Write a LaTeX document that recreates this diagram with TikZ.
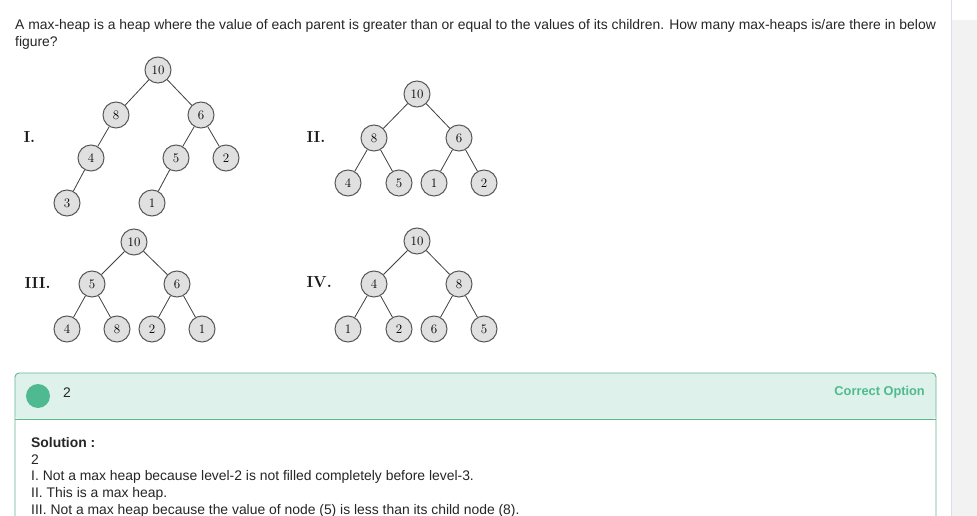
\documentclass[tikz,border=0pt]{standalone}
\usepackage{fontspec}
\setsansfont{Liberation Sans}
\begin{document}
\begin{tikzpicture}[x=1pt,y=-1pt,
  hn/.style={circle,draw=black!65,fill=black!12,line width=1pt,minimum size=26pt,inner sep=0pt,font=\fontsize{13}{15}\selectfont},
  edge/.style={draw=black!75,line width=0.8pt},
  lab/.style={font=\fontsize{16}{18}\selectfont\bfseries,anchor=west,text=black!90},
  txt/.style={font=\sffamily\fontsize{13.9}{16}\selectfont,anchor=west,inner sep=0pt,text=black!85}]
\useasboundingbox (0,0) rectangle (977,516);
\fill[white] (0,0) rectangle (977,516);
% right panel
\fill[black!5] (952,20) rectangle (977,516);
\draw[color={rgb,255:red,224;green,220;blue,232},line width=0.8pt] (951,0) -- (951,516);
% question
\node[txt] (q1) at (15,26) {A max-heap is a heap where the value of each parent is greater than or equal to the values of its children. How many max-heaps is/are there in below};
\node[txt] (q2) at (15,43) {figure?};
% Tree I
\node[lab] (L1) at (20,137) {I.};
\node[hn] (a10) at (158,70) {10};
\node[hn] (a8) at (116,115) {8};
\node[hn] (a6) at (201,115) {6};
\node[hn] (a4) at (91,158) {4};
\node[hn] (a5) at (176,158) {5};
\node[hn] (a2) at (226,158) {2};
\node[hn] (a3) at (67,203) {3};
\node[hn] (a1) at (152,203) {1};
\draw[edge] (a10)--(a8) (a10)--(a6) (a8)--(a4) (a4)--(a3) (a6)--(a5) (a6)--(a2) (a5)--(a1);
% Tree II
\node[lab] (L2) at (303,137) {II.};
\node[hn] (b10) at (417,94) {10};
\node[hn] (b8) at (374,138) {8};
\node[hn] (b6) at (459,138) {6};
\node[hn] (b4) at (348,183) {4};
\node[hn] (b5) at (399,183) {5};
\node[hn] (b1) at (434,183) {1};
\node[hn] (b2) at (484,183) {2};
\draw[edge] (b10)--(b8) (b10)--(b6) (b8)--(b4) (b8)--(b5) (b6)--(b1) (b6)--(b2);
% Tree III
\node[lab] (L3) at (21,283) {III.};
\node[hn] (c10) at (134,242) {10};
\node[hn] (c5) at (92,284) {5};
\node[hn] (c6) at (177,284) {6};
\node[hn] (c4) at (67,329) {4};
\node[hn] (c8) at (117,329) {8};
\node[hn] (c2) at (152,329) {2};
\node[hn] (c1) at (202,329) {1};
\draw[edge] (c10)--(c5) (c10)--(c6) (c5)--(c4) (c5)--(c8) (c6)--(c2) (c6)--(c1);
% Tree IV
\node[lab] (L4) at (303,282) {IV.};
\node[hn] (d10) at (417,241) {10};
\node[hn] (d4) at (374,284) {4};
\node[hn] (d8) at (459,284) {8};
\node[hn] (d1) at (348,329) {1};
\node[hn] (d2) at (399,329) {2};
\node[hn] (d6) at (434,329) {6};
\node[hn] (d5) at (484,329) {5};
\draw[edge] (d10)--(d4) (d10)--(d8) (d4)--(d1) (d4)--(d2) (d8)--(d6) (d8)--(d5);
% answer box
\definecolor{gr}{RGB}{79,186,143}
\definecolor{grl}{RGB}{222,242,235}
\definecolor{grb}{RGB}{96,184,142}
\fill[grl,rounded corners=4pt] (15,419) -- (15,373) -- (936,373) -- (936,419) -- cycle;
\draw[grb,line width=0.9pt,rounded corners=4pt] (15,520) -- (15,373) -- (936,373) -- (936,520);
\draw[grb,line width=0.9pt] (15,419) -- (936,419);
\node[circle,fill=gr,minimum size=24pt,inner sep=0pt] (dot) at (38,396) {};
\node[txt] (ans) at (63,393) {2};
\node[txt,anchor=east,text=gr,font=\sffamily\fontsize{12.8}{15}\selectfont\bfseries] (co) at (925,392) {Correct Option};
\node[txt,font=\sffamily\fontsize{13.9}{16}\selectfont\bfseries] (s0) at (31,443) {Solution :};
\node[txt] (s1) at (31,460) {2};
\node[txt] (s2) at (31,477) {I. Not a max heap because level-2 is not filled completely before level-3.};
\node[txt] (s3) at (31,494) {II. This is a max heap.};
\node[txt] (s4) at (31,511) {III. Not a max heap because the value of node (5) is less than its child node (8).};
\end{tikzpicture}
\end{document}
